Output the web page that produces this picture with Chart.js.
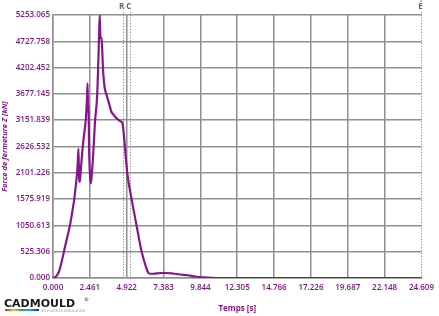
<!DOCTYPE html>
<html><head><meta charset="utf-8">
<script src="https://cdn.jsdelivr.net/npm/chart.js@4/dist/chart.umd.min.js"></script>
<style>html,body{margin:0;padding:0;background:#fff;}#wrap{position:relative;width:439px;height:316px;}</style>
</head><body><div id="wrap"><canvas id="c" width="439" height="316"></canvas></div>
<script>
// Data
const timeValues = [0, 0.2, 0.4, 0.55, 0.73, 0.93, 1.13, 1.28, 1.42, 1.52, 1.61, 1.66, 1.70, 1.74, 1.79, 1.84, 1.95, 2.05, 2.2, 2.27, 2.31, 2.34, 2.37, 2.41, 2.46, 2.53, 2.6, 2.69, 2.8, 2.95, 3.07, 3.12, 3.17, 3.24, 3.35, 3.45, 3.58, 3.75, 3.9, 4.1, 4.25, 4.45, 4.6, 4.65, 4.8, 4.96, 5.25, 5.58, 5.92, 6.2, 6.35, 6.45, 6.7, 7.2, 7.6, 8.0, 8.5, 9.0, 9.5, 10.0, 10.6, 11.5, 15.0, 20.0, 24.609];
const forceValues = [0, 30, 130, 290, 525, 790, 1050, 1310, 1575, 1840, 2101, 2350, 2580, 2050, 1920, 2100, 2500, 2800, 3200, 3600, 3888, 3300, 3450, 2600, 2100, 1890, 2100, 2496, 3100, 3650, 4753, 5253, 4800, 4790, 4120, 3800, 3654, 3480, 3321, 3240, 3189, 3140, 3110, 3080, 2626, 2101, 1575, 1050, 525, 230, 110, 85, 85, 100, 100, 90, 70, 55, 30, 15, 5, 0, 0, 0, 0];
const xTickValues = [0, 2.461, 4.922, 7.383, 9.844, 12.305, 14.766, 17.226, 19.687, 22.148, 24.609];
const xTickLabels = ["0.000", "2.461", "4.922", "7.383", "9.844", "12.305", "14.766", "17.226", "19.687", "22.148", "24.609"];
const yTickValues = [0, 525.306, 1050.613, 1575.919, 2101.226, 2626.532, 3151.839, 3677.145, 4202.452, 4727.758, 5253.065];
const yTickLabels = ["0.000", "525.306", "1050.613", "1575.919", "2101.226", "2626.532", "3151.839", "3677.145", "4202.452", "4727.758", "5253.065"];
const markerNames = ["R", "C", "É"];
const markerTimes = [4.65, 5.13, 24.609];

const purple = '#86158c';
const gridCol = '#8f8f8f';
const tickFont = {family: "'Open Sans'", size: 8, weight: '600'};

const markers = {
  id: 'markers',
  beforeDatasetsDraw(chart) {
    const {ctx, chartArea, scales} = chart;
    ctx.save();
    ctx.strokeStyle = '#8a8a8a';
    ctx.lineWidth = 1;
    ctx.setLineDash([1.2, 1.6]);
    markerTimes.forEach(t => {
      const x = Math.round(scales.x.getPixelForValue(t)) + 0.5;
      ctx.beginPath(); ctx.moveTo(x, chartArea.top - 3); ctx.lineTo(x, chartArea.bottom); ctx.stroke();
    });
    ctx.setLineDash([]);
    ctx.fillStyle = '#666';
    ctx.font = "bold 8px 'Open Sans'";
    ctx.textAlign = 'center'; ctx.textBaseline = 'alphabetic';
    markerNames.forEach((n, i) => {
      const x = scales.x.getPixelForValue(markerTimes[i]);
      ctx.fillText(n, x - 1, chartArea.top - 6);
    });
    ctx.restore();
  },
  afterDraw(chart) {
    const ctx = chart.ctx;
    ctx.save();
    ctx.fillStyle = '#1a1a1a';
    ctx.font = "bold 11px 'DejaVu Sans'";
    ctx.textBaseline = 'alphabetic'; ctx.textAlign = 'left';
    ctx.fillText('CADMOULD', 4, 307, 80);
    ctx.font = "5px 'DejaVu Sans'";
    ctx.fillText('®', 84, 301);
    const g = ctx.createLinearGradient(5, 0, 38, 0);
    g.addColorStop(0, '#e02020'); g.addColorStop(0.25, '#f0c020'); g.addColorStop(0.5, '#30b040');
    g.addColorStop(0.75, '#20a0e0'); g.addColorStop(1, '#2030a0');
    ctx.fillStyle = g; ctx.fillRect(5, 309, 34, 2);
    ctx.fillStyle = '#999';
    ctx.font = "3.5px 'DejaVu Sans'";
    ctx.fillText('3D PLASTICS SIMULATION', 41, 312, 44);
    ctx.restore();
  }
};

new Chart(document.getElementById('c'), {
  type: 'line',
  data: {
    datasets: [{
      data: timeValues.map((t, i) => ({x: t, y: forceValues[i]})),
      borderColor: purple, borderWidth: 2.2, pointRadius: 0, cubicInterpolationMode: 'monotone', fill: false
    }]
  },
  options: {
    responsive: false, animation: false,
    layout: {padding: {top: 15, right: 17, left: 0, bottom: 0}},
    plugins: {legend: {display: false}, tooltip: {enabled: false}},
    scales: {
      x: {
        type: 'linear', min: 0, max: 24.609,
        afterBuildTicks: s => { s.ticks = xTickValues.map(v => ({value: v})); },
        afterFit: s => { s.height = 38; },
        ticks: {color: purple, font: tickFont, padding: 5, maxRotation: 0, autoSkip: false,
          callback: (v, i) => xTickLabels[i]},
        grid: {color: ctx => ctx.index === xTickValues.length - 1 ? 'rgba(0,0,0,0)' : gridCol, lineWidth: 1.5, drawTicks: false},
        border: {color: gridCol, width: 1.5},
        title: {display: true, text: 'Temps [s]', color: purple, font: {family: "'Open Sans'", size: 8, weight: 'bold'}, padding: {top: 8, bottom: 2}}
      },
      y: {
        type: 'linear', min: 0, max: 5253.065,
        afterBuildTicks: s => { s.ticks = yTickValues.map(v => ({value: v})); },
        afterFit: s => { s.width = 53; },
        ticks: {color: purple, font: tickFont, padding: 3, autoSkip: false,
          callback: (v, i) => yTickLabels[i]},
        grid: {color: gridCol, lineWidth: 1.5, drawTicks: false},
        border: {color: gridCol, width: 1.5},
        title: {display: true, text: 'Force de fermeture Z [kN]', color: purple, font: {family: "'Open Sans'", size: 7.5, weight: 'bold', style: 'italic'}, padding: {top: 0, bottom: 0}}
      }
    }
  },
  plugins: [markers]
});
</script>
</body></html>
